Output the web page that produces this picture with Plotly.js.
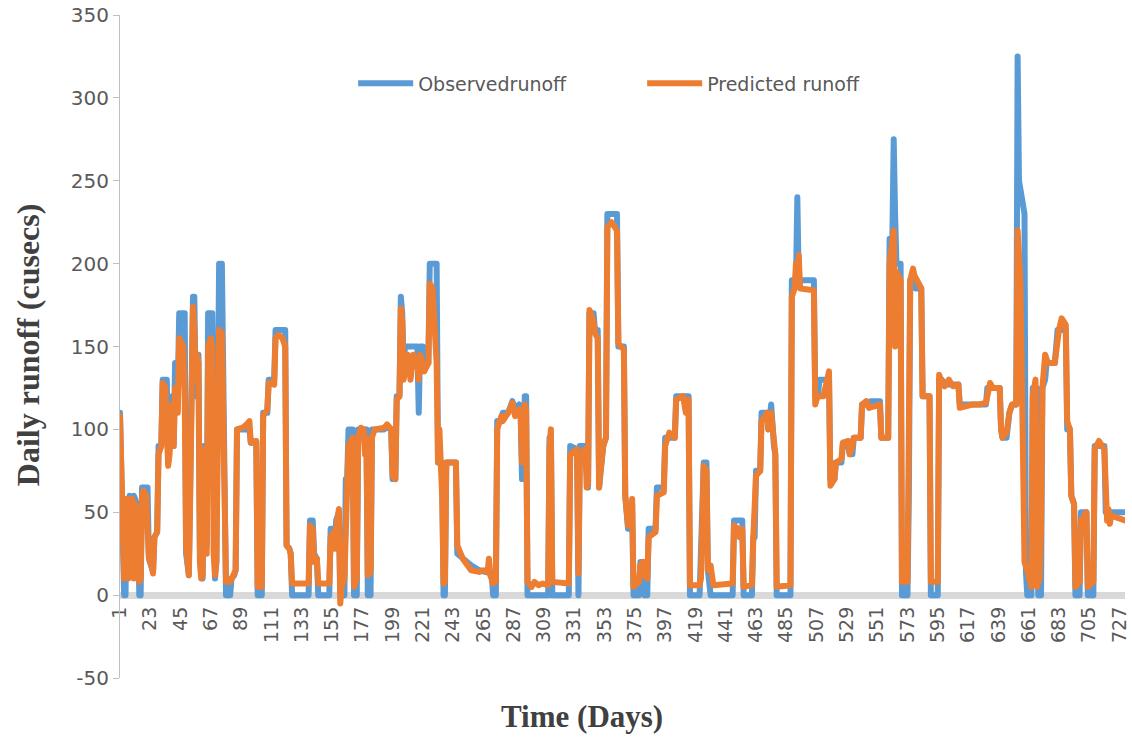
<!DOCTYPE html>
<html>
<head>
<meta charset="utf-8">
<script src="https://cdn.plot.ly/plotly-3.0.1.min.js"></script>
<style>
html,body{margin:0;padding:0;background:#fff;}
#chart{width:1132px;height:739px;}
.scatterlayer path.js-line{stroke-linejoin:round !important;stroke-linecap:round !important;}
</style>
</head>
<body>
<div id="chart"></div>
<script>
// [day, runoff]
const observed = [
[1,110],[2,60],[3,58],[4,0],[5,0],[6,58],[7,12],[8,60],[9,58],[10,12],[11,60],[12,58],[13,55],[14,50],[15,0],[16,0],[17,65],[21,65],[22,22],[24,18],[25,14],[26,35],[28,38],[29,90],[31,90],[32,130],[35,130],[36,80],[37,95],[38,110],[39,120],[40,90],[41,140],[43,125],[44,170],[48,170],[49,25],[51,12],[52,60],[53,150],[54,180],[55,180],[56,120],[57,145],[58,145],[59,30],[60,10],[61,10],[62,90],[63,88],[64,30],[65,170],[68,170],[69,30],[70,10],[71,20],[72,110],[73,200],[75,200],[76,100],[77,40],[78,0],[81,0],[82,10],[84,12],[85,15],[86,100],[95,100],[96,92],[100,92],[101,0],[104,0],[105,110],[108,110],[109,130],[113,130],[114,160],[121,160],[122,30],[124,28],[125,25],[126,0],[138,0],[139,45],[141,45],[142,25],[144,22],[145,0],[153,0],[154,40],[156,40],[157,30],[158,45],[160,50],[161,0],[164,0],[165,70],[166,70],[167,100],[170,100],[171,0],[173,0],[174,100],[178,100],[179,90],[180,100],[181,0],[183,0],[184,100],[193,100],[195,102],[198,100],[199,70],[201,70],[202,120],[204,120],[205,180],[206,170],[207,140],[208,150],[217,150],[218,110],[219,150],[221,150],[222,140],[225,140],[226,200],[231,200],[232,80],[235,80],[236,0],[237,0],[238,80],[245,80],[246,25],[250,22],[256,18],[262,15],[268,14],[271,13],[272,0],[274,0],[275,105],[278,105],[279,110],[283,110],[286,117],[288,112],[291,115],[292,110],[293,70],[294,70],[295,120],[296,120],[297,0],[312,0],[313,95],[314,95],[315,0],[327,0],[328,90],[333,88],[334,0],[335,90],[339,90],[340,65],[341,65],[342,170],[345,170],[346,160],[348,160],[349,65],[350,75],[352,90],[354,95],[355,230],[362,230],[363,150],[367,150],[368,60],[370,40],[372,40],[373,55],[374,0],[378,0],[379,20],[381,20],[382,0],[384,0],[385,40],[390,40],[391,65],[396,65],[397,95],[404,95],[405,120],[414,120],[415,0],[422,0],[423,20],[424,40],[425,80],[427,80],[428,15],[430,0],[446,0],[447,45],[453,45],[454,0],[460,0],[461,35],[462,35],[463,75],[466,75],[467,110],[471,110],[472,100],[474,115],[476,90],[477,85],[478,0],[488,0],[489,190],[492,190],[493,240],[494,190],[505,190],[506,120],[508,120],[509,130],[516,130],[517,70],[520,70],[521,80],[525,80],[526,90],[530,90],[531,85],[533,85],[534,95],[539,95],[540,115],[545,115],[546,117],[553,117],[554,95],[559,95],[560,215],[562,215],[563,275],[564,230],[565,200],[568,200],[569,0],[573,0],[574,60],[575,190],[578,190],[579,185],[583,185],[584,120],[589,120],[590,0],[595,0],[596,130],[598,130],[599,127],[610,127],[611,115],[630,115],[631,125],[640,125],[641,100],[642,95],[645,95],[646,105],[647,110],[649,115],[652,115],[653,325],[654,250],[656,240],[658,230],[659,15],[660,0],[663,0],[664,125],[667,125],[668,0],[670,0],[671,125],[673,130],[674,140],[680,140],[681,150],[682,160],[688,160],[689,100],[691,100],[692,60],[694,55],[695,0],[698,0],[699,50],[703,50],[704,0],[708,0],[709,90],[716,90],[717,50],[731,50]
];
const predicted = [
[1,108],[2,60],[3,58],[4,10],[5,12],[6,58],[7,10],[8,58],[9,12],[10,58],[11,10],[12,55],[13,50],[14,45],[15,8],[16,10],[17,60],[18,63],[20,60],[21,30],[22,22],[24,18],[25,13],[26,35],[28,38],[29,85],[31,90],[32,128],[34,125],[35,100],[36,78],[37,85],[38,110],[39,115],[40,90],[41,125],[43,110],[44,155],[47,150],[48,120],[49,30],[50,20],[51,12],[52,60],[53,120],[54,174],[55,160],[56,130],[57,145],[58,140],[59,20],[60,10],[61,12],[62,88],[63,85],[64,25],[65,150],[67,155],[68,150],[69,25],[70,12],[71,20],[72,90],[73,160],[75,158],[76,80],[77,30],[78,8],[81,8],[82,10],[84,12],[85,15],[86,100],[90,101],[93,103],[95,105],[96,92],[100,93],[101,5],[104,5],[105,108],[108,112],[109,128],[113,127],[114,155],[116,157],[119,155],[121,150],[122,30],[124,28],[125,25],[126,7],[138,7],[139,42],[141,40],[142,20],[144,22],[145,7],[153,7],[154,35],[156,38],[157,28],[158,40],[160,52],[161,-5],[162,5],[164,10],[165,60],[166,65],[167,90],[170,95],[171,5],[173,10],[174,95],[176,101],[178,100],[179,85],[180,95],[181,12],[183,14],[184,95],[186,100],[193,101],[195,103],[198,100],[199,72],[201,70],[202,118],[204,120],[205,173],[206,165],[207,130],[208,135],[210,145],[212,130],[214,145],[217,140],[218,130],[219,145],[221,138],[222,135],[225,140],[226,188],[228,185],[231,140],[232,80],[233,100],[234,80],[235,60],[236,7],[237,8],[238,80],[245,80],[246,30],[248,25],[250,22],[256,15],[262,14],[265,15],[268,14],[269,22],[270,12],[272,7],[274,8],[275,100],[278,108],[279,105],[283,110],[286,116],[288,108],[291,112],[292,110],[293,80],[294,85],[295,115],[296,112],[297,8],[300,5],[302,8],[305,6],[308,7],[312,6],[313,90],[314,100],[315,8],[327,7],[328,85],[333,88],[334,13],[335,85],[339,88],[340,65],[341,68],[342,172],[345,165],[346,158],[348,155],[349,65],[350,75],[352,90],[354,95],[355,222],[358,225],[362,220],[363,152],[367,148],[368,60],[370,42],[372,45],[373,58],[374,5],[378,8],[379,18],[381,20],[382,12],[384,10],[385,35],[390,38],[391,60],[396,62],[397,90],[400,98],[404,95],[405,118],[410,120],[412,110],[414,118],[415,6],[422,6],[423,10],[425,78],[427,75],[428,15],[430,18],[432,6],[446,7],[447,42],[450,40],[451,35],[453,40],[454,5],[460,6],[461,35],[463,72],[466,75],[467,105],[471,110],[472,100],[474,110],[476,95],[477,85],[478,5],[488,6],[489,180],[491,185],[492,200],[493,190],[494,205],[495,185],[505,184],[506,115],[507,118],[508,120],[512,120],[516,135],[517,66],[520,70],[521,80],[525,82],[526,92],[530,93],[531,85],[533,90],[534,95],[539,95],[540,115],[543,117],[545,113],[553,115],[554,95],[559,95],[560,200],[563,220],[564,150],[565,195],[568,190],[569,8],[573,8],[574,100],[575,190],[577,197],[578,193],[583,185],[584,120],[589,120],[590,8],[595,8],[596,133],[598,128],[600,126],[603,130],[606,126],[610,127],[611,113],[620,115],[625,115],[630,116],[631,122],[633,128],[635,125],[640,125],[641,100],[642,95],[645,98],[646,105],[647,110],[649,115],[652,115],[653,220],[655,190],[657,80],[658,20],[660,15],[663,5],[664,120],[666,130],[667,5],[669,10],[670,40],[671,125],[673,145],[675,140],[680,140],[681,150],[683,160],[685,167],[687,165],[688,163],[689,105],[691,100],[692,60],[694,55],[695,5],[698,8],[699,45],[703,50],[704,5],[708,8],[709,88],[712,93],[716,88],[717,55],[718,45],[719,52],[720,43],[721,48],[731,45]
];
const seriesNames = ['Observedrunoff', 'Predicted runoff'];
const xTickVals = [1,23,45,67,89,111,133,155,177,199,221,243,265,287,309,331,353,375,397,419,441,463,485,507,529,551,573,595,617,639,661,683,705,727];
const yTickVals = [-50,0,50,100,150,200,250,300,350];

const traces = [
  {x: observed.map(p => p[0]), y: observed.map(p => p[1]), name: seriesNames[0], type: 'scatter', mode: 'lines',
   line: {color: '#5B9BD5', width: 6}},
  {x: predicted.map(p => p[0]), y: predicted.map(p => p[1]), name: seriesNames[1], type: 'scatter', mode: 'lines',
   line: {color: '#ED7D31', width: 6}}
];

const layout = {
  width: 1132, height: 739,
  margin: {l: 120, r: 7, t: 15, b: 61},
  paper_bgcolor: '#fff', plot_bgcolor: '#fff',
  showlegend: true,
  xaxis: {
    type: 'linear', range: [1, 731], anchor: 'free', position: 0.125,
    showline: true, linecolor: '#d9d9d9', linewidth: 7, layer: 'below traces',
    tickmode: 'array', tickvals: xTickVals, ticktext: xTickVals.map(String),
    tickangle: -90, ticks: '', showgrid: false, zeroline: false,
    tickfont: {family: 'DejaVu Sans', size: 19, color: '#595959'}
  },
  yaxis: {
    range: [-50, 350], tickmode: 'array', tickvals: yTickVals, ticktext: yTickVals.map(String),
    ticks: 'outside', ticklen: 6, tickcolor: '#bfbfbf', tickwidth: 1,
    showline: true, linecolor: '#bfbfbf', linewidth: 1,
    showgrid: false, zeroline: false,
    tickfont: {family: 'DejaVu Sans', size: 20, color: '#595959'}
  },
  legend: {
    orientation: 'h', x: 0.232, xanchor: 'left', y: 0.897, yanchor: 'middle',
    itemwidth: 55, entrywidth: 219, bgcolor: 'rgba(0,0,0,0)',
    font: {family: 'DejaVu Sans', size: 19, color: '#595959'}
  },
  annotations: [
    {text: '<b>Daily runoff (cusecs)</b>', xref: 'paper', yref: 'paper', x: -0.0915, y: 0.502,
     textangle: -90, showarrow: false, xanchor: 'center', yanchor: 'middle',
     font: {family: 'Liberation Serif', size: 32, color: '#404040'}},
    {text: '<b>Time (Days)</b>', xref: 'paper', yref: 'paper', x: 0.46, y: -0.0588,
     showarrow: false, xanchor: 'center', yanchor: 'middle',
     font: {family: 'Liberation Serif', size: 31, color: '#404040'}}
  ]
};

Plotly.newPlot('chart', traces, layout, {displayModeBar: false, staticPlot: true});
</script>
</body>
</html>
